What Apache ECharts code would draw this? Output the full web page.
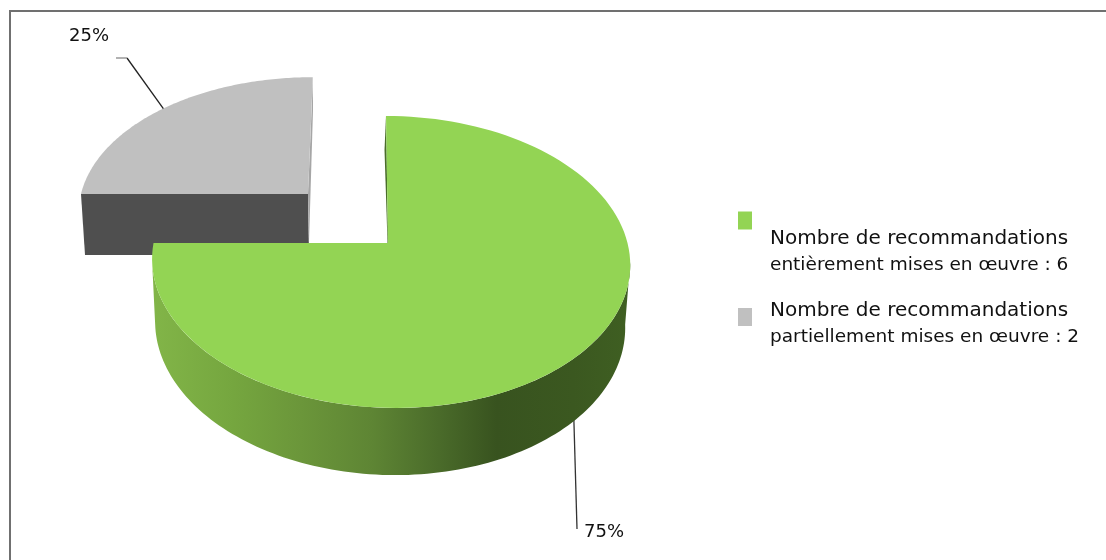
<!DOCTYPE html>
<html><head><meta charset="utf-8">
<style>html,body{margin:0;padding:0;background:#fff}#c{width:1106px;height:560px}</style>
<script src="https://cdn.jsdelivr.net/npm/echarts@6/dist/echarts.min.js"></script>
</head><body><div id="c"></div>
<script>
const categories = ['Nombre de recommandations\nentièrement mises en œuvre : 6',
                    'Nombre de recommandations\npartiellement mises en œuvre : 2'];
const values = [6, 2];
const colors = ['#93d454', '#c0c0c0'];
const total = values.reduce((a, b) => a + b, 0);
const FONT = '"DejaVu Sans", "Open Sans", sans-serif';

// Perspective projection of a disc: theta is clockwise from 12 o'clock.
function proj(g, theta, dz) {
  const u = Math.sin(theta), v = Math.cos(theta), d = 1 + g.k * v;
  const top = !dz;
  const a = top ? g.a : g.a2, b = top ? g.b : g.b2, cy = top ? g.cy : g.cy + dz, cx = top ? g.cx : g.cx2;
  return [cx + (a * u + g.skew * v) / d, cy - b * v / d];
}
function arc(g, t0, t1, dz) {
  const n = 120, pts = [];
  for (let i = 0; i <= n; i++) pts.push(proj(g, t0 + (t1 - t0) * i / n, dz));
  return pts;
}
const greenGeo = {cx: 390.5, cx2: 389.5, cy: 243, a: 237, b: 143.5, a2: 233, b2: 148, k: 0.13, skew: -5, depth: 62, apex: [388, 243]};
const greyGeo  = {cx: 311, cx2: 311, cy: 194, a: 230, b: 132, a2: 226, b2: 130, k: 0.13, skew: 2, depth: 61, apex: [308, 194]};
const sideGradient = {type: 'linear', x: 0, y: 0, x2: 1, y2: 0, colorStops: [
  {offset: 0, color: '#82b548'}, {offset: 0.17, color: '#75a63f'}, {offset: 0.31, color: '#6b963a'},
  {offset: 0.46, color: '#5e8534'}, {offset: 0.6, color: '#4a6b2a'}, {offset: 0.72, color: '#38531f'},
  {offset: 0.88, color: '#3b5820'}, {offset: 1, color: '#3f5f22'}]};

function sliceAngles(idx) {
  let s = 0;
  for (let i = 0; i < idx; i++) s += values[i];
  return [s / total * 2 * Math.PI, (s + values[idx]) / total * 2 * Math.PI];
}
function pct(i) { return Math.round(values[i] / total * 100) + '%'; }
function poly(points, style) { return {type: 'polygon', shape: {points}, style, silent: true}; }
function line(points, stroke) { return {type: 'polyline', shape: {points}, style: {stroke, lineWidth: 1.3, fill: null}, silent: true}; }
function label(text, x, y) {
  return {type: 'text', style: {text, x, y, fill: '#111', font: '18px ' + FONT, textAlign: 'center', textVerticalAlign: 'middle'}, silent: true};
}

function renderGreen(params, api) {
  const g = greenGeo, [t0, t1] = sliceAngles(0), mid = (t0 + t1) / 2;
  const ext = Math.acos(-g.k);                       // silhouette angle of the disc
  const side = arc(g, ext, 2 * Math.PI - ext).concat(arc(g, 2 * Math.PI - ext, ext, g.depth));
  const rim = proj(g, mid, g.depth);
  return {type: 'group', children: [
    line([[rim[0] - 1, rim[1] - 2], [577, 529]], '#333'),
    poly(side, {fill: sideGradient}),
    poly([[386, 116], [384.5, 150], [387.5, 243], g.apex], {fill: '#4a6e2a'}),
    poly([g.apex].concat(arc(g, t0, t1).map((p, i) => i === 0 ? [386, 116] : p)), {fill: api.visual('color')}),
    label(pct(0), 604, 532)
  ]};
}
function renderGrey(params, api) {
  const g = greyGeo, [t0, t1] = sliceAngles(1), mid = (t0 + t1) / 2;
  const rim = proj(g, mid);
  return {type: 'group', children: [
    poly([g.apex, [g.cx + g.a * Math.sin(t0), g.cy], proj(g, t0, g.depth), [g.apex[0] + 1, g.cy + g.depth]], {fill: '#4f4f4f'}),
    poly([[313, 78], [313, 110], [309, 243], g.apex], {fill: '#a6a6a6'}),
    poly([g.apex].concat(arc(g, t0, t1)), {fill: api.visual('color')}),
    line([[rim[0], rim[1]], [127, 58]], '#222'),
    line([[127, 58], [116, 58]], '#888'),
    label(pct(1), 89, 36)
  ]};
}

const legendBase = {orient: 'vertical', left: 738, icon: 'rect', itemWidth: 14, itemHeight: 18, itemGap: 0, padding: 0, selectedMode: false,
  formatter: name => { const [a, b] = name.split('\n'); return '{sp| }\n{t1|' + a + '}\n{t2|' + b + '}'; }};
function legendText(spacer) {
  return {padding: [0, 0, 0, 13], rich: {
    sp: {height: spacer, lineHeight: spacer, fontSize: 1},
    t1: {color: '#111', fontFamily: FONT, fontSize: 20, lineHeight: 27, height: 27},
    t2: {color: '#111', fontFamily: FONT, fontSize: 18.5, lineHeight: 27, height: 27}
  }};
}
const option = {
  animation: false,
  backgroundColor: '#fff',
  graphic: [{type: 'polyline', shape: {points: [[10, 560], [10, 11], [1106, 11]]}, style: {fill: null, stroke: '#707070', lineWidth: 2}, silent: true}],
  legend: [
    Object.assign({}, legendBase, {top: 162, data: [categories[0]], textStyle: legendText(63)}),
    Object.assign({}, legendBase, {top: 283, data: [categories[1]], textStyle: legendText(14)})
  ],
  series: [
    {type: 'custom', name: categories[1], coordinateSystem: 'none', data: [values[1]], itemStyle: {color: colors[1]}, renderItem: renderGrey, z: 2},
    {type: 'custom', name: categories[0], coordinateSystem: 'none', data: [values[0]], itemStyle: {color: colors[0]}, renderItem: renderGreen, z: 3}
  ]
};
echarts.init(document.getElementById('c')).setOption(option);
</script></body></html>
